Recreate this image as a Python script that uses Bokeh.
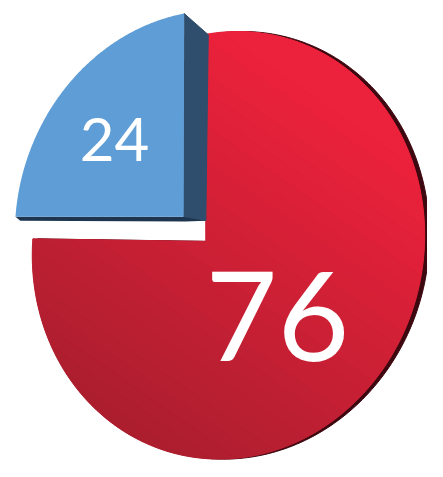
import numpy as np
from bokeh.plotting import figure
from bokeh.models import Range1d, ColumnDataSource
from bokeh.embed import file_html
from bokeh.resources import INLINE
from bokeh.core.properties import value

# ---- data ----
labels = ["24", "76"]
values = [24, 76]
face_colors = ["#5E9DD6", "#D62035"]
side_color = "#2F4D6D"
bottom_color = "#1E3550"
rim_color = "#3E0810"
bright_red = "#EC213B"
dark_red = "#AA1E2E"

# ---- perspective of the tilted pie (unit disk -> reference-pixel space) ----
disk_pts = [(0, 1), (0, -1), (-1, 0), (1, 0)]
view_pts = [(213, 35), (213, 474), (33, 259), (440, 237)]
explode = [0.17, 0.0]
depth_top = (25, 22)
depth_bot = (23, 4)
label_frac = 0.5
label_sizes = ["60px", "124px"]
label_dx = [-8, 2]
label_dy = [-9, -3]


def fit_h(src, dst):
    A, bvec = [], []
    for (u, v), (x, y) in zip(src, dst):
        A.append([u, v, 1, 0, 0, 0, -u * x, -v * x]); bvec.append(x)
        A.append([0, 0, 0, u, v, 1, -u * y, -v * y]); bvec.append(y)
    h = np.linalg.solve(np.array(A, float), np.array(bvec, float))
    return np.append(h, 1).reshape(3, 3)


H = fit_h(disk_pts, view_pts)


def proj(u, v):
    u = np.asarray(u, float); v = np.asarray(v, float)
    w = H[2, 0] * u + H[2, 1] * v + H[2, 2]
    return (H[0, 0] * u + H[0, 1] * v + H[0, 2]) / w, (H[1, 0] * u + H[1, 1] * v + H[1, 2]) / w


p = figure(width=427, height=461, x_range=Range1d(0, 443), y_range=Range1d(477, 0),
           output_backend="svg", toolbar_location=None, min_border=0)
p.axis.visible = False
p.grid.visible = False
p.outline_line_color = None
p.background_fill_color = "white"
p.border_fill_color = "white"

total = sum(values)
angles = []
a = np.pi / 2
for v in values:
    da = 2 * np.pi * v / total
    angles.append((a, a + da))
    a += da
offsets = []
for (a0, a1), e in zip(angles, explode):
    m = 0.5 * (a0 + a1)
    offsets.append((e * np.cos(m), e * np.sin(m)))


def wedge(i, r=1.0, n=240):
    a0, a1 = angles[i]
    ou, ov = offsets[i]
    th = np.linspace(a0, a1, n)
    u = np.concatenate([[ou], ou + r * np.cos(th)])
    v = np.concatenate([[ov], ov + r * np.sin(th)])
    return proj(u, v)


# red slice with dark rim
rx, ry = wedge(1)
p.patch(rx + 5, ry, fill_color=rim_color, line_color=rim_color, line_width=1)
p.patch(rx, ry, fill_color=face_colors[1], line_color=None)


def hex2rgb(h):
    h = h.lstrip("#")
    return np.array([int(h[i:i + 2], 16) for i in (0, 2, 4)], float)


def rgb2hex(c):
    return "#%02x%02x%02x" % tuple(int(round(q)) for q in c)


def clip_half(pts, d, k):
    out = []
    n = len(pts)
    for i in range(n):
        P = pts[i]; Q = pts[(i + 1) % n]
        fp = d @ P - k; fq = d @ Q - k
        if fp >= 0:
            out.append(P)
        if (fp >= 0) != (fq >= 0):
            t = fp / (fp - fq)
            out.append(P + t * (Q - P))
    return out


d = np.array([-0.57, 0.82]); d = d / np.linalg.norm(d)
pts = [np.array([x, y]) for x, y in zip(rx, ry)]
tv = [d @ q for q in pts]
tB = d @ np.array([340.0, 110.0]); tD = d @ np.array([100.0, 430.0])
cB, cD = hex2rgb(bright_red), hex2rgb(dark_red)
N = 30
edges = np.linspace(min(tv), max(tv), N + 1)
bxs, bys, bcols = [], [], []
for i in range(N):
    part = clip_half(pts, d, edges[i])
    if len(part) >= 3:
        part = clip_half(part, -d, -edges[i + 1])
    if len(part) < 3:
        continue
    u = np.clip((0.5 * (edges[i] + edges[i + 1]) - tB) / (tD - tB), 0, 1)
    col = rgb2hex(cB + (cD - cB) * u)
    bxs.append([q[0] for q in part]); bys.append([q[1] for q in part]); bcols.append(col)
p.patches(bxs, bys, fill_color=bcols, line_color=bcols, line_width=1)

# blue slice (exploded) with its side faces
bx, by = wedge(0)
C = np.array([bx[0], by[0]]); T = np.array([bx[1], by[1]]); L = np.array([bx[-1], by[-1]])
Tp = T + depth_top; Cp = C + depth_bot
p.patch([T[0], Tp[0], Cp[0], C[0]], [T[1], Tp[1], Cp[1], C[1]],
        fill_color=side_color, line_color=side_color, line_width=1)
p.patch([L[0], C[0], Cp[0], C[0] + 2, L[0] + 5], [L[1], C[1], Cp[1], C[1] + 5, L[1] + 4],
        fill_color=bottom_color, line_color=None)
p.patch(bx, by, fill_color=face_colors[0], line_color=None)

# labels
lx, ly = [], []
for (a0, a1), (ou, ov) in zip(angles, offsets):
    m = 0.5 * (a0 + a1)
    x, y = proj(ou + label_frac * np.cos(m), ov + label_frac * np.sin(m))
    lx.append(float(x)); ly.append(float(y))
src = ColumnDataSource(dict(x=lx, y=ly, text=labels, size=label_sizes,
                            dx=label_dx, dy=label_dy))
p.text(x="x", y="y", text="text", source=src, text_font=value("Lato"),
       text_font_size="size", text_color="white", text_align="center",
       text_baseline="middle", x_offset="dx", y_offset="dy")

open("out.html", "w").write(file_html(p, INLINE))
